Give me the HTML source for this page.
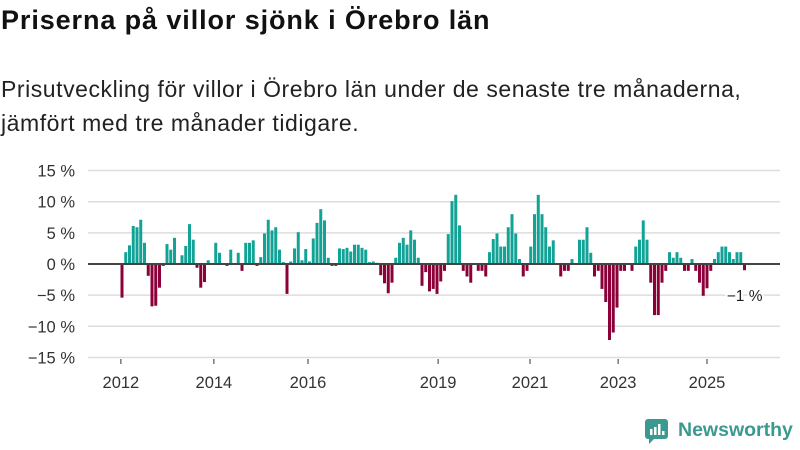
<!DOCTYPE html>
<html><head><meta charset="utf-8"><style>
body{margin:0;background:#fff;width:800px;height:450px;overflow:hidden;font-family:"Liberation Sans",sans-serif;position:relative}
#title{position:absolute;left:1px;top:5px;font-size:27px;letter-spacing:0.9px;font-weight:bold;color:#111;margin:0}
#sub{position:absolute;left:1px;top:72px;font-size:23px;letter-spacing:0.55px;line-height:34px;color:#222;margin:0}
svg{position:absolute;left:0;top:0}
</style></head><body>
<h1 id="title">Priserna på villor sjönk i Örebro län</h1>
<p id="sub">Prisutveckling för villor i Örebro län under de senaste tre månaderna,<br>jämfört med tre månader tidigare.</p>
<svg id="chart" width="800" height="450"></svg>
<script>
const values=[-5.4,1.9,3.0,6.1,5.9,7.1,3.4,-1.9,-6.8,-6.7,-3.8,-0.3,3.2,2.3,4.2,0,1.4,2.9,6.4,3.9,-0.6,-3.8,-2.9,0.6,0,3.4,1.8,0,-0.3,2.3,0,1.8,-1.1,3.4,3.4,3.8,-0.3,1.1,4.9,7.1,5.4,5.9,2.3,0.3,-4.8,0.4,2.5,5.1,0.6,2.4,0.4,4.1,6.6,8.8,7.0,1.0,
-0.3,-0.3,2.5,2.4,2.6,2.0,3.1,3.1,2.6,2.3,0.3,0.4,0.2,-1.8,-3.1,-4.7,-3.0,1.0,3.4,4.2,3.1,5.4,3.9,1.0,-3.5,-1.3,-4.4,-4.0,-4.8,-2.8,-1.1,4.8,10.1,11.1,6.2,-1.1,-2.0,-3.0,0,-1.1,-1.1,-2.0,1.9,4.0,4.9,2.8,2.8,5.9,8.0,4.9,0.8,-2.0,-1.1,2.8,8.0,11.1,8.0,5.9,
2.8,3.8,0,-2.0,-1.1,-1.1,0.8,0,3.9,3.9,5.9,1.8,-2.0,-1.1,-4.0,-6.1,-12.2,-11.0,-7.0,-1.1,-1.1,0,-1.1,2.8,3.9,7.0,3.9,-3.0,-8.2,-8.2,-3.0,-1.1,1.9,1.0,1.9,1.0,-1.1,-1.1,0.8,-1.1,-3.0,-5.1,-3.9,-1.1,0.8,1.9,2.8,2.8,1.9,0.8,1.9,1.9,-1.0];
const yTicks=[15,10,5,0,-5,-10,-15];
const yTickLabels=["15 %","10 %","5 %","0 %","−5 %","−10 %","−15 %"];
const xTickLabels=["2012","2014","2016","2019","2021","2023","2025"];
const xTickIdx=[-0.3,24.5,49.6,84.3,108.8,132.3,156];
const lastLabel="−1 %";
const NS="http://www.w3.org/2000/svg",svg=document.getElementById('chart');
const y=v=>264-v*6.23, x=i=>122+i*3.75;
function mk(t,a){const e=document.createElementNS(NS,t);for(const k in a)e.setAttribute(k,a[k]);svg.appendChild(e);return e;}
yTicks.forEach((v,i)=>{
 const g=mk('line',{x1:88,x2:780,y1:y(v),y2:y(v),stroke:'#ddd','stroke-width':1.5});
 
 
 const t=mk('text',{x:75,y:y(v)+6,'text-anchor':'end','font-size':16.5,fill:'#333'});t.textContent=yTickLabels[i];
 
 
});
values.forEach((v,i)=>{
 if(v===0)return;
 const r=mk('rect',{x:x(i)-1.5,width:3,y:v>0?y(v):264,height:Math.abs(y(v)-264),fill:v>0?'#13a396':'#8c0039'});
 
 
});
const z=mk('line',{x1:88,x2:780,y1:264,y2:264,stroke:'#444','stroke-width':2});


xTickLabels.forEach((l,i)=>{
 const px=x(xTickIdx[i]);
 const tk=mk('line',{x1:px,x2:px,y1:359,y2:364,stroke:'#333','stroke-width':1});
 
 
 const t=mk('text',{x:px,y:388,'text-anchor':'middle','font-size':16.5,fill:'#333'});t.textContent=l;
 
 
});
const li=values.length-1;
const a=mk('text',{x:x(li)+18,y:y(values[li])+31,'text-anchor':'end','font-size':15.5,fill:'#222',stroke:'#fff','stroke-width':4,'paint-order':'stroke'});
a.textContent=lastLabel;


</script>
<div style="position:absolute;left:645px;top:419px;display:flex;align-items:center">
 <svg width="24" height="26" style="position:static"><rect x="0" y="0" width="23" height="20" rx="3" fill="#3a9a8f"/><polygon points="4,19 10,19 4,25" fill="#3a9a8f"/><rect x="5" y="10" width="2.5" height="6" fill="#fff"/><rect x="9" y="8" width="2.5" height="8" fill="#fff"/><rect x="13" y="5" width="2.5" height="11" fill="#fff"/><rect x="17" y="12" width="2.5" height="4" fill="#fff"/></svg>
 <span style="margin-left:9px;font-size:19.5px;font-weight:bold;color:#3a9a8f;margin-top:-4px">Newsworthy</span>
</div>
</body></html>
